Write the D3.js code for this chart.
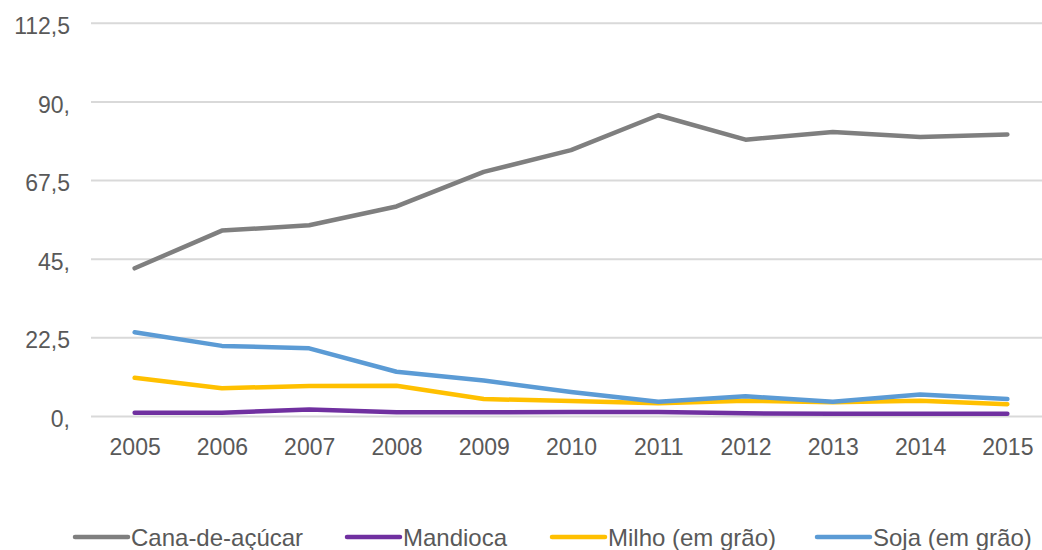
<!DOCTYPE html>
<html>
<head>
<meta charset="utf-8">
<script src="https://cdn.jsdelivr.net/npm/d3@7"></script>
<style>
  html, body { margin: 0; padding: 0; background: #fff; }
  svg { display: block; }
  text { font-family: "Liberation Sans", Arial, Helvetica, sans-serif; fill: #595959; }
</style>
</head>
<body>
<svg id="chart" width="1042" height="550"></svg>
<script>
// Produção por cultura, 2005–2015
const years = ["2005","2006","2007","2008","2009","2010","2011","2012","2013","2014","2015"];
const cana     = [42.4, 53.2, 54.7, 60.1, 70.0, 76.2, 86.2, 79.2, 81.4, 80.0, 80.7];
const mandioca = [1.1, 1.1, 2.0, 1.2, 1.2, 1.3, 1.3, 0.9, 0.8, 0.8, 0.8];
const milho    = [11.1, 8.1, 8.7, 8.8, 5.0, 4.4, 3.8, 4.5, 4.1, 4.5, 3.5];
const soja     = [24.1, 20.2, 19.5, 12.8, 10.3, 7.0, 4.2, 5.8, 4.2, 6.3, 5.0];
const seriesNames = ["Cana-de-açúcar", "Mandioca", "Milho (em grão)", "Soja (em grão)"];
const seriesColors = ["#7f7f7f", "#7030a0", "#ffc000", "#5b9bd5"];
const yTicks = [0, 22.5, 45, 67.5, 90, 112.5];
const yTickLabels = ["0,", "22,5", "45,", "67,5", "90,", "112,5"];

const series = [cana, mandioca, milho, soja].map((values, i) => ({
  name: seriesNames[i], color: seriesColors[i], values
}));

const svg = d3.select("#chart");

const x = d3.scalePoint().domain(years).range([91, 1051]).padding(0.5);
const y = d3.scaleLinear().domain([0, 112.5]).range([416.5, 23.3]);

// Horizontal gridlines
svg.append("g")
  .selectAll("line")
  .data(yTicks)
  .join("line")
  .attr("x1", 91).attr("x2", 1051)
  .attr("y1", d => y(d)).attr("y2", d => y(d))
  .attr("stroke", "#d9d9d9")
  .attr("stroke-width", 2);

// Y axis labels
const yAxis = d3.axisLeft(y).tickValues(yTicks)
  .tickFormat((d, i) => yTickLabels[i]).tickSize(0).tickPadding(0);
svg.append("g")
  .attr("transform", "translate(70,0)")
  .call(yAxis)
  .call(g => g.select(".domain").remove())
  .call(g => g.selectAll("text")
    .attr("dy", "0.35em")
    .attr("y", 2)
    .style("font-size", "23px")
    .style("font-family", "'Liberation Sans', Arial, sans-serif")
    .attr("fill", "#595959"));

// X axis labels
const xAxis = d3.axisBottom(x).tickSize(0).tickPadding(0);
svg.append("g")
  .attr("transform", "translate(0,455)")
  .call(xAxis)
  .call(g => g.select(".domain").remove())
  .call(g => g.selectAll("text")
    .attr("y", 0).attr("dy", 0)
    .style("font-size", "23px")
    .style("font-family", "'Liberation Sans', Arial, sans-serif")
    .attr("fill", "#595959"));

// Series lines
const line = d3.line()
  .x((d, i) => x(years[i]))
  .y(d => y(d));

svg.append("g")
  .selectAll("path")
  .data(series)
  .join("path")
  .attr("d", d => line(d.values))
  .attr("fill", "none")
  .attr("stroke", d => d.color)
  .attr("stroke-width", 4.5)
  .attr("stroke-linejoin", "round")
  .attr("stroke-linecap", "round");

// Legend
const legendX = [75, 347, 552, 817];
const legend = svg.append("g")
  .selectAll("g")
  .data(series)
  .join("g")
  .attr("transform", (d, i) => `translate(${legendX[i]},537)`);

legend.append("line")
  .attr("x1", 0).attr("x2", 53)
  .attr("y1", 0).attr("y2", 0)
  .attr("stroke", d => d.color)
  .attr("stroke-width", 4.5)
  .attr("stroke-linecap", "round");

legend.append("text")
  .attr("x", 56)
  .attr("y", 8.5)
  .style("font-size", "24px")
  .text(d => d.name);
</script>
</body>
</html>
